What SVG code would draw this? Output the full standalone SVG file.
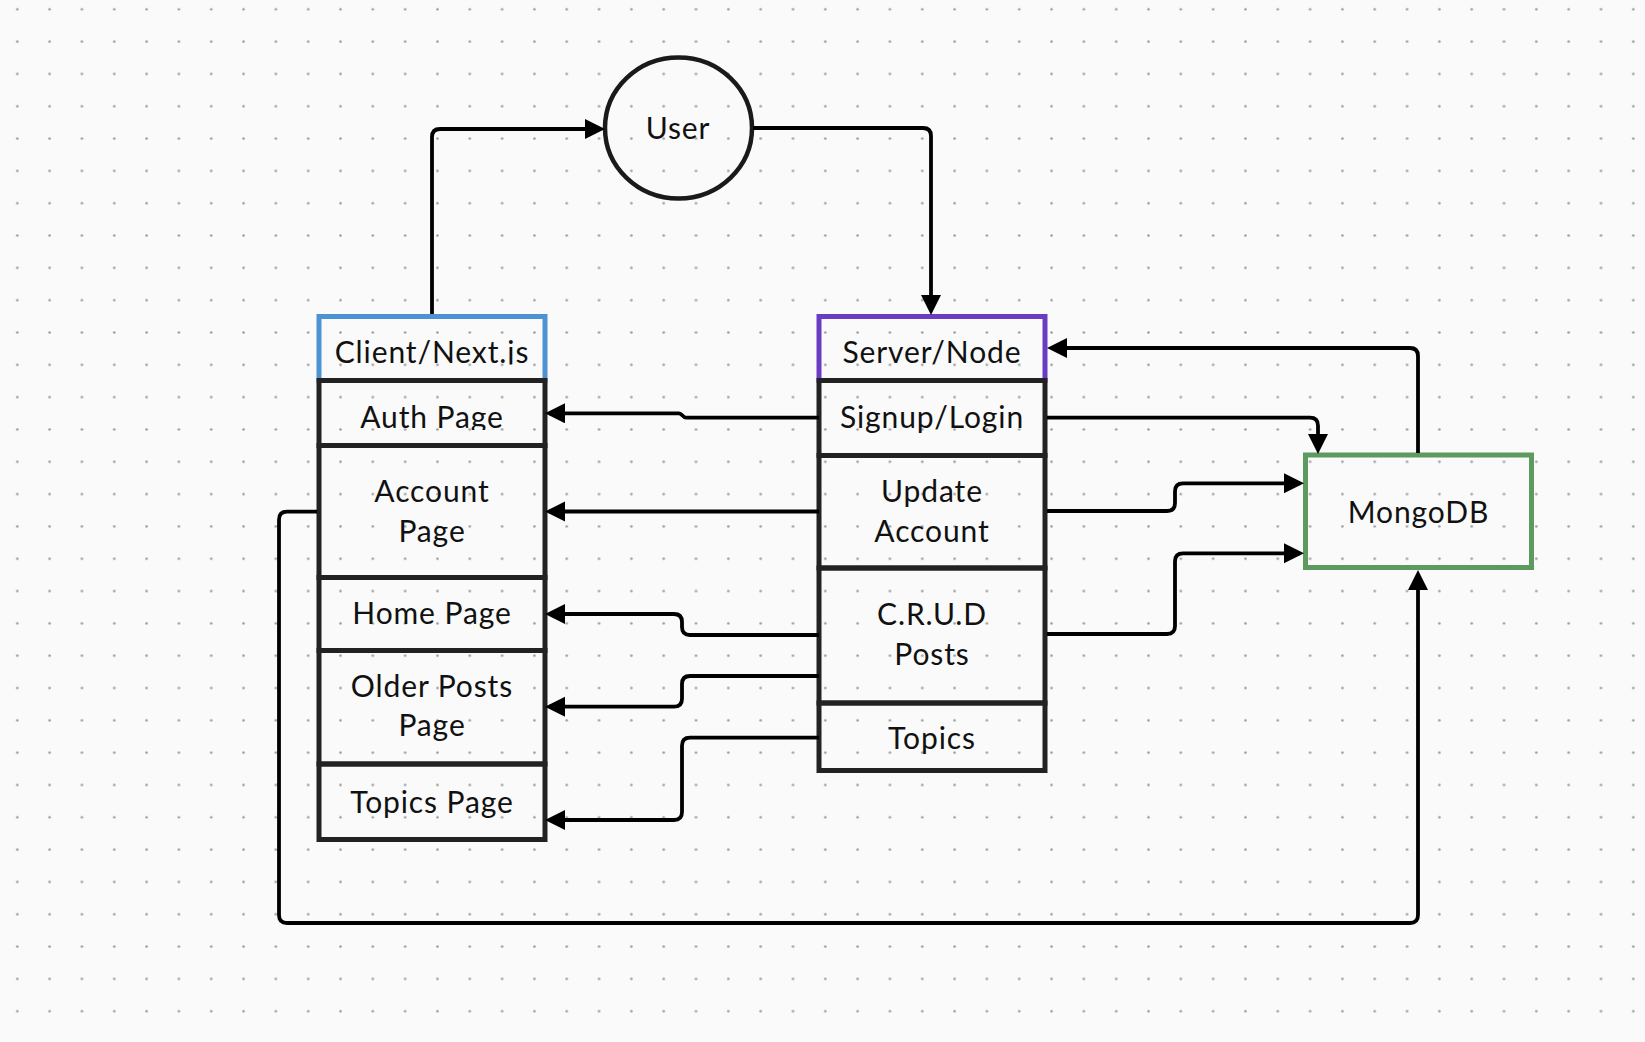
<svg xmlns="http://www.w3.org/2000/svg" width="1645" height="1042" viewBox="0 0 1645 1042">
<defs>
<pattern id="dots" x="1.14" y="-6.86" width="32.32" height="32.32" patternUnits="userSpaceOnUse"><circle cx="16.16" cy="16.16" r="1.3" fill="#9c9c9c"/></pattern>
<marker id="arr" markerUnits="userSpaceOnUse" markerWidth="21" markerHeight="21" refX="16" refY="10" orient="auto"><path d="M0,0 L20,10 L0,20 Z" fill="#000"/></marker>
<clipPath id="clipClient"><rect x="300" y="300" width="260" height="64.5"/></clipPath>
<clipPath id="clipAuth"><rect x="300" y="380" width="260" height="50"/></clipPath>
<style>
.box{fill:none;stroke:#222;stroke-width:5}
.lbl{font-family:Lato,"Liberation Sans",sans-serif;font-size:30px;fill:#111;text-anchor:middle;letter-spacing:0.9px}
.con{fill:none;stroke:#000;stroke-width:3.8;stroke-linejoin:round}
</style>
</defs>
<rect width="1645" height="1042" fill="#fafafa"/>
<rect width="1645" height="1042" fill="url(#dots)"/>

<g id="user"><ellipse cx="678.5" cy="128" rx="73.5" ry="70.5" fill="none" stroke="#1a1a1a" stroke-width="4.5"/><text class="lbl" x="678" y="139.3">User</text></g>

<g id="client">
<rect x="319" y="316.5" width="226" height="64" fill="none" stroke="#4d93d4" stroke-width="5"/>
<text class="lbl" x="432" y="363.3" clip-path="url(#clipClient)">Client/Next.js</text>
</g>
<g id="auth-page"><rect class="box" x="319" y="380.5" width="226" height="65"/><text class="lbl" x="432" y="428.3" clip-path="url(#clipAuth)">Auth Page</text></g>
<g id="account-page"><rect class="box" x="319" y="445.5" width="226" height="132"/><text class="lbl" x="432" y="501.7">Account</text><text class="lbl" x="432" y="541.7">Page</text></g>
<g id="home-page"><rect class="box" x="319" y="577.5" width="226" height="73"/><text class="lbl" x="432" y="624">Home Page</text></g>
<g id="older-posts-page"><rect class="box" x="319" y="650.5" width="226" height="113.5"/><text class="lbl" x="432" y="696.7">Older Posts</text><text class="lbl" x="432" y="736">Page</text></g>
<g id="topics-page"><rect class="box" x="319" y="764" width="226" height="75.5"/><text class="lbl" x="432" y="812.7">Topics Page</text></g>

<g id="server">
<rect x="819" y="316.5" width="226" height="64" fill="none" stroke="#6a3cc4" stroke-width="5"/>
<text class="lbl" x="932" y="362.7">Server/Node</text>
</g>
<g id="signup-login"><rect class="box" x="819" y="380.5" width="226" height="75"/><text class="lbl" x="932" y="428.3">Signup/Login</text></g>
<g id="update-account"><rect class="box" x="819" y="455.5" width="226" height="112.5"/><text class="lbl" x="932" y="501.7">Update</text><text class="lbl" x="932" y="541.7">Account</text></g>
<g id="crud-posts"><rect class="box" x="819" y="568" width="226" height="135"/><text class="lbl" x="932" y="625">C.R.U.D</text><text class="lbl" x="932" y="665">Posts</text></g>
<g id="topics"><rect class="box" x="819" y="703" width="226" height="67.5"/><text class="lbl" x="932" y="749.3">Topics</text></g>

<g id="mongodb"><rect x="1305.5" y="455" width="226" height="112.5" fill="none" stroke="#5c9a60" stroke-width="5"/><text class="lbl" x="1418.5" y="522.7">MongoDB</text></g>

<g id="connectors">
<path class="con" marker-end="url(#arr)" d="M432,314 V137 Q432,129 440,129 H601"/>
<path class="con" marker-end="url(#arr)" d="M753,128 H923 Q931,128 931,136 V311"/>
<path class="con" marker-end="url(#arr)" d="M819,417.7 H686 C683,417.7 682,413.3 679,413.3 H549"/>
<path class="con" marker-end="url(#arr)" d="M819,511.5 H549"/>
<path class="con" marker-end="url(#arr)" d="M819,635 H690 Q682,635 682,627 V622 Q682,614 674,614 H549"/>
<path class="con" marker-end="url(#arr)" d="M819,676 H690 Q682,676 682,684 V698.7 Q682,706.7 674,706.7 H549"/>
<path class="con" marker-end="url(#arr)" d="M819,737.7 H690 Q682,737.7 682,745.7 V812 Q682,820 674,820 H549"/>
<path class="con" marker-end="url(#arr)" d="M1047,417.7 H1310 Q1318,417.7 1318,425.7 V450"/>
<path class="con" marker-end="url(#arr)" d="M1047,511 H1167 Q1175,511 1175,503 V491.3 Q1175,483.3 1183,483.3 H1300"/>
<path class="con" marker-end="url(#arr)" d="M1047,634 H1167 Q1175,634 1175,626 V561.3 Q1175,553.3 1183,553.3 H1300"/>
<path class="con" marker-end="url(#arr)" d="M1418,453 V356 Q1418,348 1410,348 H1051"/>
<path class="con" marker-end="url(#arr)" d="M317,511.7 H287 Q279,511.7 279,519.7 V915 Q279,923 287,923 H1410 Q1418,923 1418,915 V574"/>
</g>
</svg>
